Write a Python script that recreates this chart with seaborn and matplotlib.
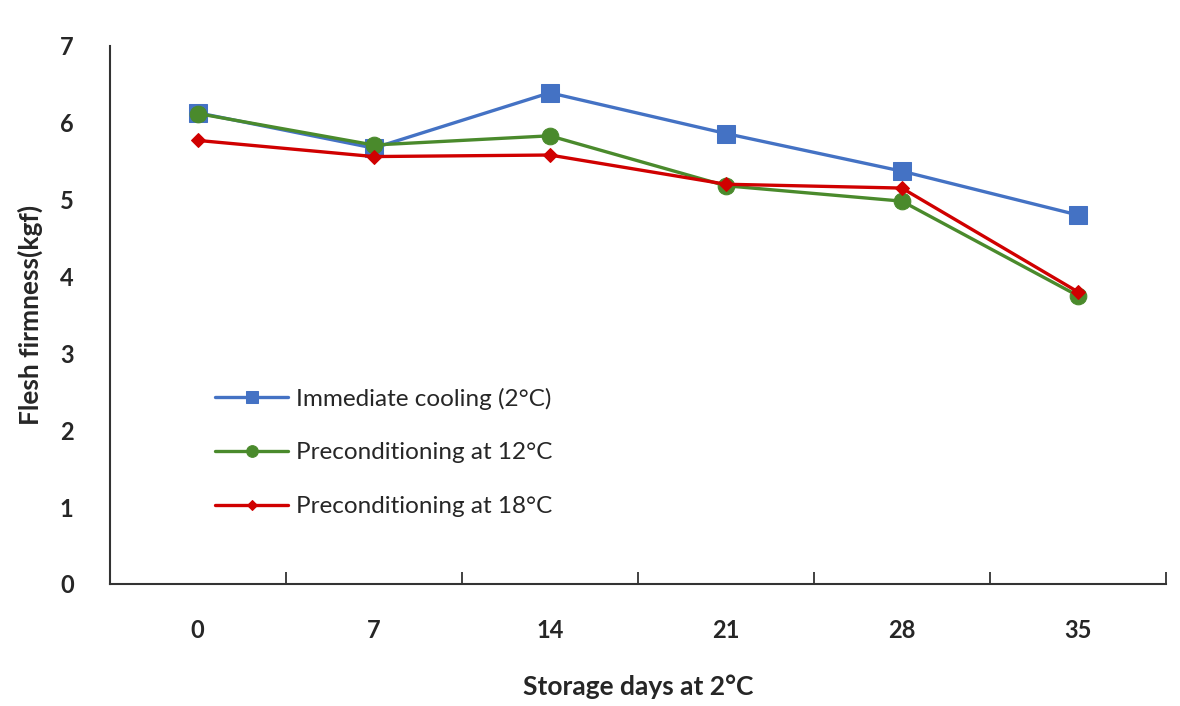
import matplotlib
matplotlib.use("Agg")
import matplotlib.pyplot as plt
import seaborn as sns
import pandas as pd

days = ["0", "7", "14", "21", "28", "35"]
immediate = [6.13, 5.67, 6.39, 5.86, 5.37, 4.80]
precond_12 = [6.12, 5.71, 5.83, 5.18, 4.98, 3.75]
precond_18 = [5.77, 5.56, 5.58, 5.20, 5.15, 3.80]

series_names = ["Immediate cooling (2°C)", "Preconditioning at 12°C", "Preconditioning at 18°C"]
colors = ["#4472C4", "#4A8A2C", "#D00000"]
markers = ["s", "o", "D"]
msizes = [13, 12, 7]

sns.set_style("white")
plt.rcParams["font.family"] = ["Lato", "DejaVu Sans"]

fig = plt.figure(figsize=(11.8, 7.06), dpi=100)
ax = fig.add_axes([0.093, 0.173, 0.895, 0.762])

for name, vals, c, m, ms in zip(series_names, [immediate, precond_12, precond_18], colors, markers, msizes):
    df = pd.DataFrame({"pos": range(len(days)), "firmness": vals})
    sns.lineplot(data=df, x="pos", y="firmness", ax=ax, color=c, marker=m,
                 markersize=ms, markeredgecolor=c, linewidth=2.4, label=name)

ax.set_xlim(-0.5, len(days) - 0.5)
ax.set_ylim(0, 7)
ax.set_xticks(range(len(days)))
ax.set_xticklabels(days)
ax.set_xticks([i - 0.5 for i in range(len(days) + 1)], minor=True)
ax.tick_params(axis="x", which="major", length=0, pad=25, labelsize=17)
ax.tick_params(axis="x", which="minor", bottom=True, direction="in", length=9, width=1.3, color="#333333")
ax.tick_params(axis="y", length=0, pad=26, labelsize=17)
for lab in ax.get_xticklabels() + ax.get_yticklabels():
    lab.set_fontweight("bold")

ax.set_xlabel("Storage days at 2°C", fontsize=19, fontweight="bold", labelpad=24)
ax.set_ylabel("Flesh firmness(kgf)", fontsize=19, fontweight="bold", labelpad=12)

for s in ["top", "right"]:
    ax.spines[s].set_visible(False)
for s in ["left", "bottom"]:
    ax.spines[s].set_color("#333333")
    ax.spines[s].set_linewidth(1.5)

ax.legend(loc="upper left", bbox_to_anchor=(0.1, 0.365), frameon=False, fontsize=17.5,
          handlelength=3.0, labelspacing=1.35, handletextpad=0.3, markerscale=0.7,
          borderaxespad=0, borderpad=0)

fig.savefig("out.png", dpi=100)
